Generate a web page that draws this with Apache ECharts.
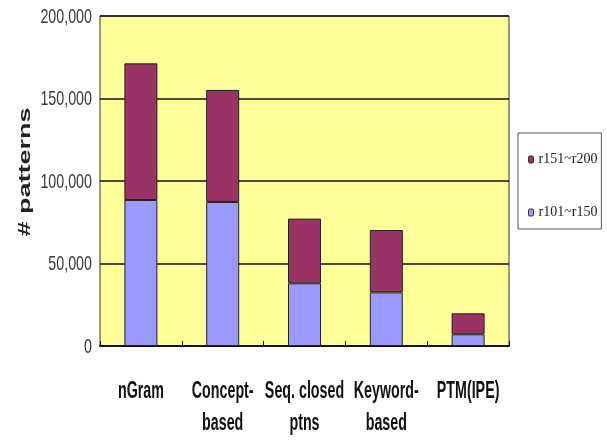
<!DOCTYPE html>
<html>
<head>
<meta charset="utf-8">
<script src="https://cdn.jsdelivr.net/npm/echarts@6/dist/echarts.min.js"></script>
<style>
  html, body { margin: 0; padding: 0; background: #fff; }
  #chart { width: 607px; height: 441px; }
</style>
</head>
<body>
<div id="chart"></div>
<script>
// Pattern counts per method, split by topic range
const categories = ['nGram', 'Concept-\nbased', 'Seq. closed\nptns', 'Keyword-\nbased', 'PTM(IPE)'];
const r101to150 = [88500, 87300, 38000, 32500, 7100];
const r151to200 = [82800, 67900, 39200, 37800, 12700];
const yTicks = [0, 50000, 100000, 150000, 200000];
const yTitle = '# patterns';

const sans = '"Liberation Sans", Arial, sans-serif';

const chart = echarts.init(document.getElementById('chart'), null, { renderer: 'canvas' });

chart.setOption({
  backgroundColor: '#ffffff',
  animation: false,
  grid: {
    left: 100, right: 98, top: 16, bottom: 95,
    outerBoundsMode: 'none',
    containLabel: false,
    show: true,
    backgroundColor: '#FFFF99',
    borderColor: '#333',
    borderWidth: 1
  },
  legend: {
    orient: 'vertical',
    left: 518,
    top: 133,
    padding: [19, 4, 9, 10],
    itemGap: 38,
    itemWidth: 5,
    itemHeight: 7,
    borderColor: '#555',
    borderWidth: 1,
    borderRadius: 0,
    data: ['r151~r200', 'r101~r150'],
    itemStyle: { borderColor: '#333', borderWidth: 1 },
    textStyle: { fontFamily: '"Liberation Serif", "Times New Roman", serif', fontSize: 14, lineHeight: 15, color: '#222' }
  },
  xAxis: {
    type: 'category',
    data: categories,
    axisLine: { show: true, lineStyle: { color: '#111', width: 2 } },
    axisTick: { show: true, inside: true, length: 5, lineStyle: { color: '#111' } },
    axisLabel: { show: false }
  },
  yAxis: {
    type: 'value',
    min: yTicks[0],
    max: yTicks[yTicks.length - 1],
    interval: yTicks[1] - yTicks[0],
    axisLine: { show: false },
    axisTick: { show: false },
    splitLine: { show: true, lineStyle: { color: '#111', width: 1.5 } },
    axisLabel: { show: false }
  },
  series: [
    {
      name: 'r101~r150',
      type: 'bar',
      stack: 'total',
      barWidth: 33,
      data: r101to150,
      itemStyle: { color: '#9999FF', borderColor: '#222', borderWidth: 1 }
    },
    {
      name: 'r151~r200',
      type: 'bar',
      stack: 'total',
      barWidth: 33,
      data: r151to200,
      itemStyle: { color: '#993366', borderColor: '#222', borderWidth: 1 }
    }
  ]
});

// Axis texts are drawn as condensed text, placed from the axes' own pixel mapping
const graphics = [];
const zeroY = chart.convertToPixel({ yAxisIndex: 0 }, yTicks[0]);
const topY = chart.convertToPixel({ yAxisIndex: 0 }, yTicks[yTicks.length - 1]);
const plotLeft = chart.convertToPixel({ xAxisIndex: 0 }, 0) - (chart.convertToPixel({ xAxisIndex: 0 }, 1) - chart.convertToPixel({ xAxisIndex: 0 }, 0)) / 2;

categories.forEach((label, i) => {
  graphics.push({
    type: 'text',
    x: chart.convertToPixel({ xAxisIndex: 0 }, i),
    y: zeroY + 29.5,
    scaleX: 0.62,
    silent: true,
    style: {
      text: label,
      x: 0, y: 0,
      align: 'center',
      verticalAlign: 'top',
      font: 'bold 23px ' + sans,
      lineHeight: 32,
      fill: '#111'
    }
  });
});

yTicks.forEach(v => {
  graphics.push({
    type: 'text',
    x: plotLeft - 8,
    y: chart.convertToPixel({ yAxisIndex: 0 }, v) + 1,
    scaleX: 0.68,
    silent: true,
    style: {
      text: v.toLocaleString('en-US'),
      x: 0, y: 0,
      align: 'right',
      verticalAlign: 'middle',
      font: '21px ' + sans,
      fill: '#3a3a3a'
    }
  });
});

graphics.push({
  type: 'text',
  x: 26,
  y: (zeroY + topY) / 2 - 9,
  rotation: Math.PI / 2,
  scaleY: 0.6,
  silent: true,
  style: {
    text: yTitle,
    x: 0, y: 0,
    align: 'center',
    verticalAlign: 'middle',
    font: 'bold 27px ' + sans,
    fill: '#222'
  }
});

chart.setOption({ graphic: graphics });
</script>
</body>
</html>
